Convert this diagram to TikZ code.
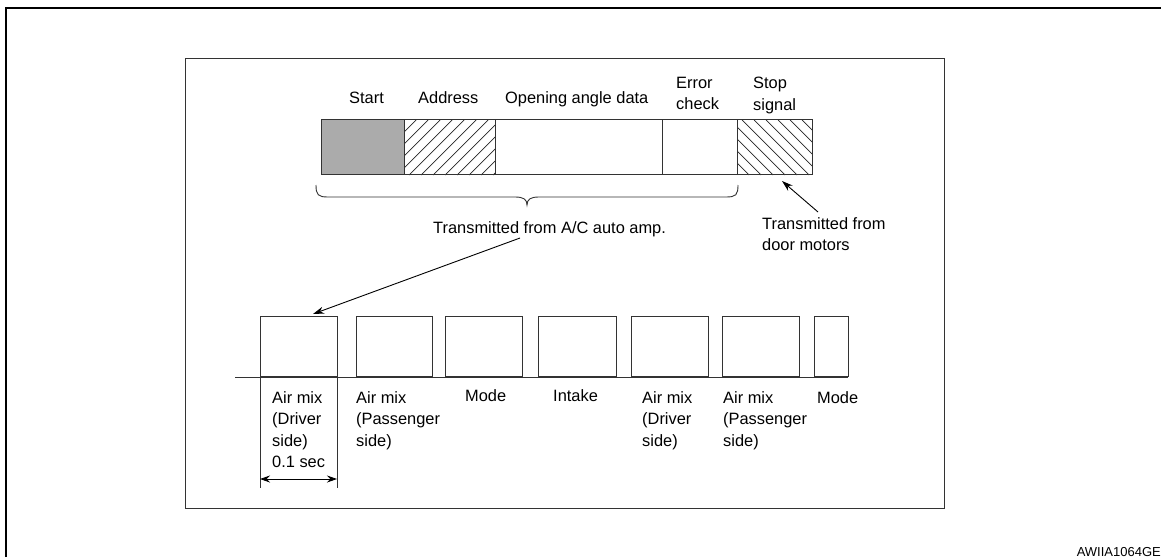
\documentclass[tikz,border=0pt]{standalone}
\usepackage{fontspec}
\setmainfont{Liberation Sans}
\usetikzlibrary{arrows.meta}
\tikzset{
  ln/.style={draw=black!80, line width=0.9pt},
  txt/.style={inner sep=0pt, font=\fontsize{16.4}{21.5}\selectfont, align=left},
  seg/.style={ln, rectangle, minimum height=55pt, inner sep=0pt, anchor=south west},
  pulse/.style={ln, rectangle, minimum height=60pt, inner sep=0pt, anchor=south west},
  arr/.style={line width=0.9pt, -{Stealth[length=11pt,width=7pt]}},
  darr/.style={line width=0.9pt, {Stealth[length=10pt,width=7pt]}-{Stealth[length=10pt,width=7pt]}},
  hatch/.style={black!85, line width=0.7pt}
}
\begin{document}
\begin{tikzpicture}[x=1pt,y=-1pt]
\useasboundingbox (0,0) rectangle (1161,557);
% outer frame
\draw[line width=2.6pt] (6,557) -- (6,8) -- (1163,8);
% inner box
\draw[ln] (185,58) rectangle (944,508);

% segmented bar
\node[seg, minimum width=83pt, fill=black!33] (start) at (321,175) {};
\node[seg, minimum width=91pt] (addr) at (404,175) {};
\node[seg, minimum width=167pt] (data) at (495,175) {};
\node[seg, minimum width=75pt] (err) at (662,175) {};
\node[seg, minimum width=75pt] (stop) at (737,175) {};
\begin{scope}
  \clip (404,120) rectangle (495,175);
  \foreach \i in {0,...,13} \draw[hatch] ({349+12*\i},175) -- ++(55,-55);
\end{scope}
\begin{scope}
  \clip (737,120) rectangle (812,175);
  \foreach \i in {0,...,11} \draw[hatch] ({682+12*\i},120) -- ++(55,55);
\end{scope}
\node[seg, minimum width=91pt] at (404,175) {};
\node[seg, minimum width=75pt] at (737,175) {};

% labels above bar
\node[txt, anchor=base west] (lstart) at (349,103) {Start};
\node[txt, anchor=base west] (laddr) at (418,103) {Address};
\node[txt, anchor=base west] (ldata) at (505,103) {Opening angle data};
\node[txt, anchor=north west] (lerr) at (676,77) {Error\\check};
\node[txt, anchor=north west] (lstop) at (753,77) {Stop\\signal};

% brace
\draw[ln] (316,185) .. controls (316,195) and (318,197) .. (328,197) -- (515,197)
  .. controls (523,197) and (527,199) .. (527,205)
  .. controls (527,199) and (531,197) .. (539,197) -- (726,197)
  .. controls (736,197) and (738,195) .. (738,185);

\node[txt, anchor=base west] (lamp) at (433,233) {Transmitted from A/C auto amp.};
\node[txt, anchor=north west] (ldoor) at (762,217) {Transmitted from\\door motors};

% pulses
\draw[ln] (235,377) -- (848,377);
\node[pulse, minimum width=77pt] (p1) at (260,377) {};
\node[pulse, minimum width=76pt] (p2) at (356,377) {};
\node[pulse, minimum width=77pt] (p3) at (445,377) {};
\node[pulse, minimum width=78pt] (p4) at (538,377) {};
\node[pulse, minimum width=77pt] (p5) at (631,377) {};
\node[pulse, minimum width=77pt] (p6) at (722,377) {};
\node[pulse, minimum width=34pt] (p7) at (814,377) {};
\draw[ln] (p1.south west) -- ++(0,111) coordinate (d1);
\draw[ln] (p1.south east) -- ++(0,111) coordinate (d2);

% labels under pulses
\node[txt, anchor=north west] (l1) at (272,391) {Air mix\\(Driver\\side)\\0.1 sec};
\node[txt, anchor=north west] (l2) at (356,391) {Air mix\\(Passenger\\side)};
\node[txt, anchor=base west] (l3) at (465,401) {Mode};
\node[txt, anchor=base west] (l4) at (553,401) {Intake};
\node[txt, anchor=north west] (l5) at (642,391) {Air mix\\(Driver\\side)};
\node[txt, anchor=north west] (l6) at (723,391) {Air mix\\(Passenger\\side)};
\node[txt, anchor=base west] (l7) at (817,403) {Mode};

% arrows
\coordinate (a1s) at (520,238);
\coordinate (a1e) at (313,314);
\draw[arr] (a1s) -- (a1e);
\coordinate (a2s) at (818,212);
\coordinate (a2e) at (782,181);
\draw[arr] (a2s) -- (a2e);
\coordinate (t1) at (260,479);
\coordinate (t2) at (337,479);
\draw[darr] (t1) -- (t2);

\node[inner sep=0pt, font=\fontsize{13}{15}\selectfont, anchor=base east] (code) at (1161,556) {AWIIA1064GE};
\end{tikzpicture}
\end{document}
